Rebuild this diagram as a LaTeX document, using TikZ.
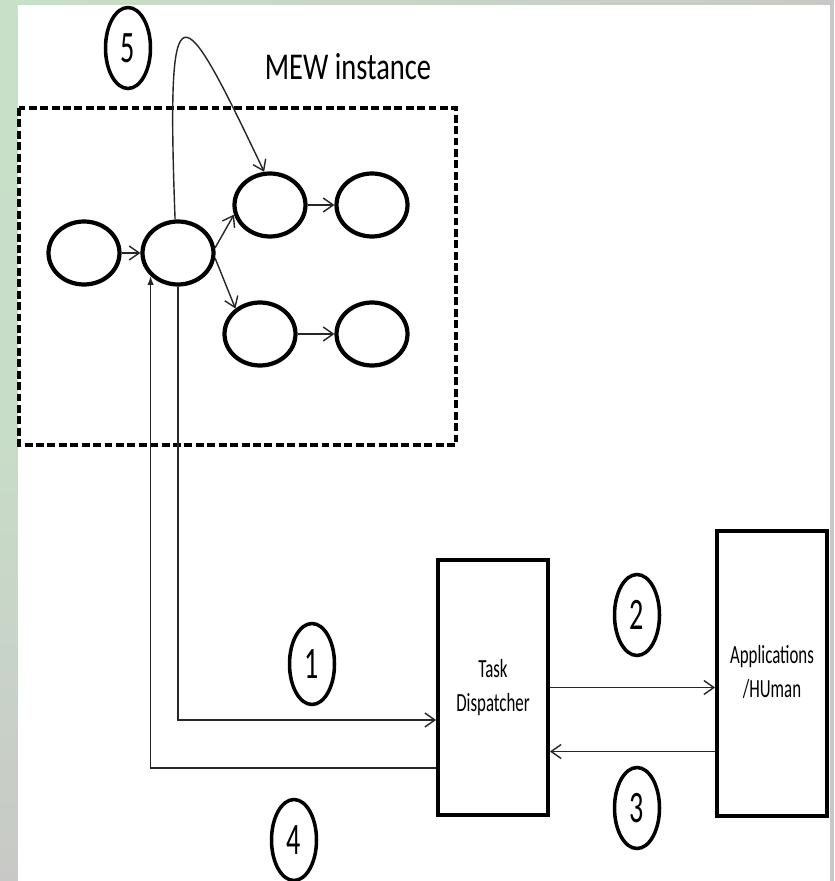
\documentclass[tikz,border=0pt]{standalone}
\usepackage{fontspec}
\setmainfont{Carlito}
\usepackage{graphicx}
\usepackage{xcolor}
\usepackage{tikz}
\usetikzlibrary{shapes.geometric, arrows.meta, positioning, calc}
\definecolor{framegreen}{RGB}{200,224,200}
\definecolor{framegray}{RGB}{200,201,198}
\newcommand{\vstretch}[2]{\scalebox{1}[#1]{#2}}

\begin{document}
\begin{tikzpicture}[x=0.02cm, y=-0.02cm,
  stage/.style={ellipse, draw, line width=2.4pt, minimum width=1.42cm, minimum height=1.26cm, inner sep=0pt},
  num/.style={ellipse, draw, line width=2pt, minimum width=0.9cm, minimum height=1.62cm, inner sep=0pt, font=\fontsize{16}{16}\selectfont},
  blockbox/.style={rectangle, draw, line width=2.2pt, minimum width=2.2cm, inner sep=0pt, align=center, font=\fontsize{9.6}{12.8}\selectfont},
  conn/.style={draw=black!85, line width=0.8pt, -{Straight Barb[length=2mm,width=2.8mm]}}]
  \useasboundingbox (0,0) rectangle (834,881);
  \fill[framegray] (0,0) rectangle (834,881);
  \shade[top color=framegreen, bottom color=framegray, middle color=framegreen!85!framegray] (0,0) rectangle (18,881);
  \shade[left color=framegreen, right color=framegray] (0,0) rectangle (834,5);
  \fill[white] (18,5) rectangle (830,881);

  \draw[line width=2.2pt, dash pattern=on 4.5pt off 2pt] (19,108) rectangle (456,445);
  \node[font=\fontsize{16.2}{18}\selectfont] (mew) at (348,67) {\vstretch{1.33}{MEW instance}};

  \node[stage] (s1) at (84,253) {};
  \node[stage] (s2) at (178,253) {};
  \node[stage] (s3) at (270,205) {};
  \node[stage] (s4) at (372,205) {};
  \node[stage] (s5) at (260,334) {};
  \node[stage] (s6) at (372,334) {};

  \node[blockbox, minimum height=5.1cm] (task) at (493,687.5) {\vstretch{1.55}{\begin{tabular}{@{}c@{}}Task\\Dispatcher\end{tabular}}};
  \node[blockbox, minimum height=5.7cm] (apps) at (772,673.5) {\vstretch{1.55}{\begin{tabular}{@{}c@{}}Applications\\/HUman\end{tabular}}};

  \node[num] (c1) at (312,664) {\vstretch{1.6}{1}};
  \node[num] (c2) at (637,615) {\vstretch{1.6}{2}};
  \node[num] (c3) at (637,808) {\vstretch{1.6}{3}};
  \node[num] (c4) at (294,840) {\vstretch{1.6}{4}};
  \node[num] (c5) at (128,48) {\vstretch{1.6}{5}};

  \coordinate (back) at ($(task.east)+(0,64)$);

  \draw[conn] (s1) -- (s2);
  \draw[conn] (s2.8) -- (s3.195);
  \draw[conn] (s2.-8) -- (s5.134);
  \draw[conn] (s3) -- (s4);
  \draw[conn] (s5) -- (s6);
  \draw[conn] (s2.95) .. controls (166,-25) and (180,-5) .. (s3.100);

  \draw[conn] (s2.south) |- ([yshift=-0.65cm]task.west);
  \draw[conn] (task.east) -- (apps.west |- task.east);
  \draw[conn] (apps.west |- back) -- (back);
  \draw[conn, -{Latex[length=1.8mm,width=1.3mm]}] ([yshift=-1.61cm]task.west) -| (s2.220);
\end{tikzpicture}
\end{document}
